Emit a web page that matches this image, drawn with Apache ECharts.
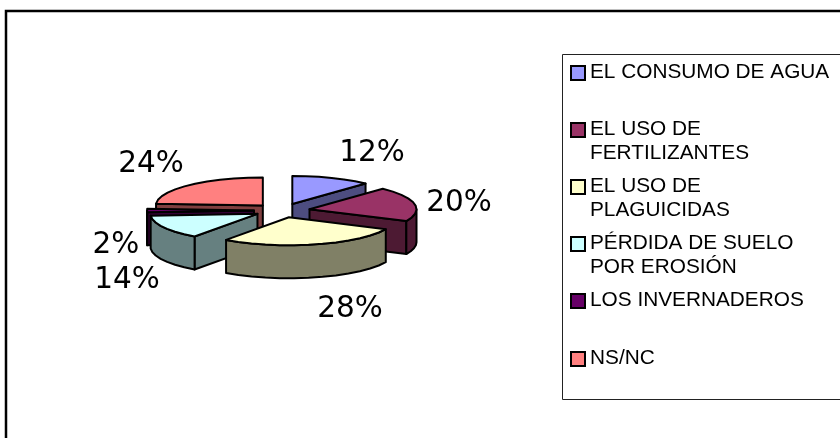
<!DOCTYPE html>
<html><head><meta charset="utf-8">
<style>html,body{margin:0;padding:0;background:#fff}#c{width:840px;height:438px}</style>
<script src="https://cdn.jsdelivr.net/npm/echarts@6/dist/echarts.min.js"></script>
</head><body><div id="c"></div>
<script>
var categories = ['EL CONSUMO DE AGUA','EL USO DE\nFERTILIZANTES','EL USO DE\nPLAGUICIDAS','PÉRDIDA DE SUELO\nPOR EROSIÓN','LOS INVERNADEROS','NS/NC'];
var values = [12,20,28,14,2,24];
var colors = ['#9999FF','#993366','#FFFFCC','#CCFFFF','#660066','#FF8080'];
var sideColors = ['#4D4D80','#4D1A33','#808066','#668080','#330033','#804040'];
var drawOrder = [5,0,1,4,3,2];
var labelCenters = [[372,153],[459,203],[350,309],[127,280],[116,245],[151,164]];
var legendRowY = [66,123,180,237,294,352];

var PIE = {cx:282,cy:210.5,rx:107,ry:28,depth:33,explode:28,squash:0.25};
var total = values.reduce(function(a,b){return a+b;},0);
var startAngles = [], acc = 0;
values.forEach(function(v){startAngles.push(acc/total*360);acc+=v;});
function rad(d){return d*Math.PI/180;}
function rimPoint(ax,ay,deg,dz){
  return [ax+PIE.rx*Math.sin(rad(deg)), ay-PIE.ry*Math.cos(rad(deg))+(dz||0)];
}
function arc(ax,ay,a,b,dz){
  var n=Math.max(1,Math.ceil((b-a)/8)),pts=[];
  for(var i=0;i<=n;i++){pts.push(rimPoint(ax,ay,a+(b-a)*i/n,dz));}
  return pts;
}
var stroke={stroke:'#000',lineWidth:2,lineJoin:'round'};
function poly(points,fill){
  return {type:'polygon',shape:{points:points},style:Object.assign({fill:fill},stroke)};
}
function renderSlice(params,api){
  var i=api.value(1), v=api.value(0);
  var s=startAngles[i], e=s+v/total*360, m=(s+e)/2, D=PIE.depth;
  var ax=PIE.cx+PIE.explode*Math.sin(rad(m));
  var ay=PIE.cy-PIE.explode*PIE.squash*Math.cos(rad(m));
  var kids=[];
  function face(deg){
    var p=rimPoint(ax,ay,deg);
    kids.push(poly([[ax,ay],p,[p[0],p[1]+D],[ax,ay+D]],sideColors[i]));
  }
  if(Math.sin(rad(s))<0) face(s);
  if(Math.sin(rad(e))>0) face(e);
  var w0=Math.max(s,90), w1=Math.min(e,270);
  if(w1>w0){
    kids.push(poly(arc(ax,ay,w0,w1,0).concat(arc(ax,ay,w0,w1,D).reverse()),sideColors[i]));
  }
  kids.push(poly([[ax,ay]].concat(arc(ax,ay,s,e,0)),colors[i]));
  return {type:'group',children:kids};
}
var legendGraphics=[
  {type:'rect',shape:{x:6,y:11,width:900,height:500},style:{fill:'#fff',stroke:'#000',lineWidth:2.5},silent:true},
  {type:'rect',shape:{x:562.5,y:54.5,width:400,height:345},style:{fill:'#fff',stroke:'#222',lineWidth:1},silent:true}
];
categories.forEach(function(name,i){
  var y=legendRowY[i];
  legendGraphics.push({type:'rect',shape:{x:571,y:y,width:14,height:14},style:{fill:colors[i],stroke:'#000',lineWidth:2}});
  legendGraphics.push({type:'text',x:590,y:y-6,style:{text:name,fill:'#000',font:'20.8px "Liberation Sans"',lineHeight:24,verticalAlign:'top'}});
});
values.forEach(function(v,i){
  legendGraphics.push({type:'text',x:labelCenters[i][0],y:labelCenters[i][1],z:10,style:{text:v+'%',fill:'#000',font:'29.5px "DejaVu Sans"',align:'center',verticalAlign:'middle'}});
});
var chart=echarts.init(document.getElementById('c'),null,{renderer:'canvas'});
chart.setOption({
  animation:false,
  backgroundColor:'#fff',
  graphic:{elements:legendGraphics},
  series:[{
    type:'custom',coordinateSystem:'none',
    renderItem:renderSlice,
    encode:{value:0},
    z:5,
    data:drawOrder.map(function(i){return [values[i],i];})
  }]
});
</script></body></html>
